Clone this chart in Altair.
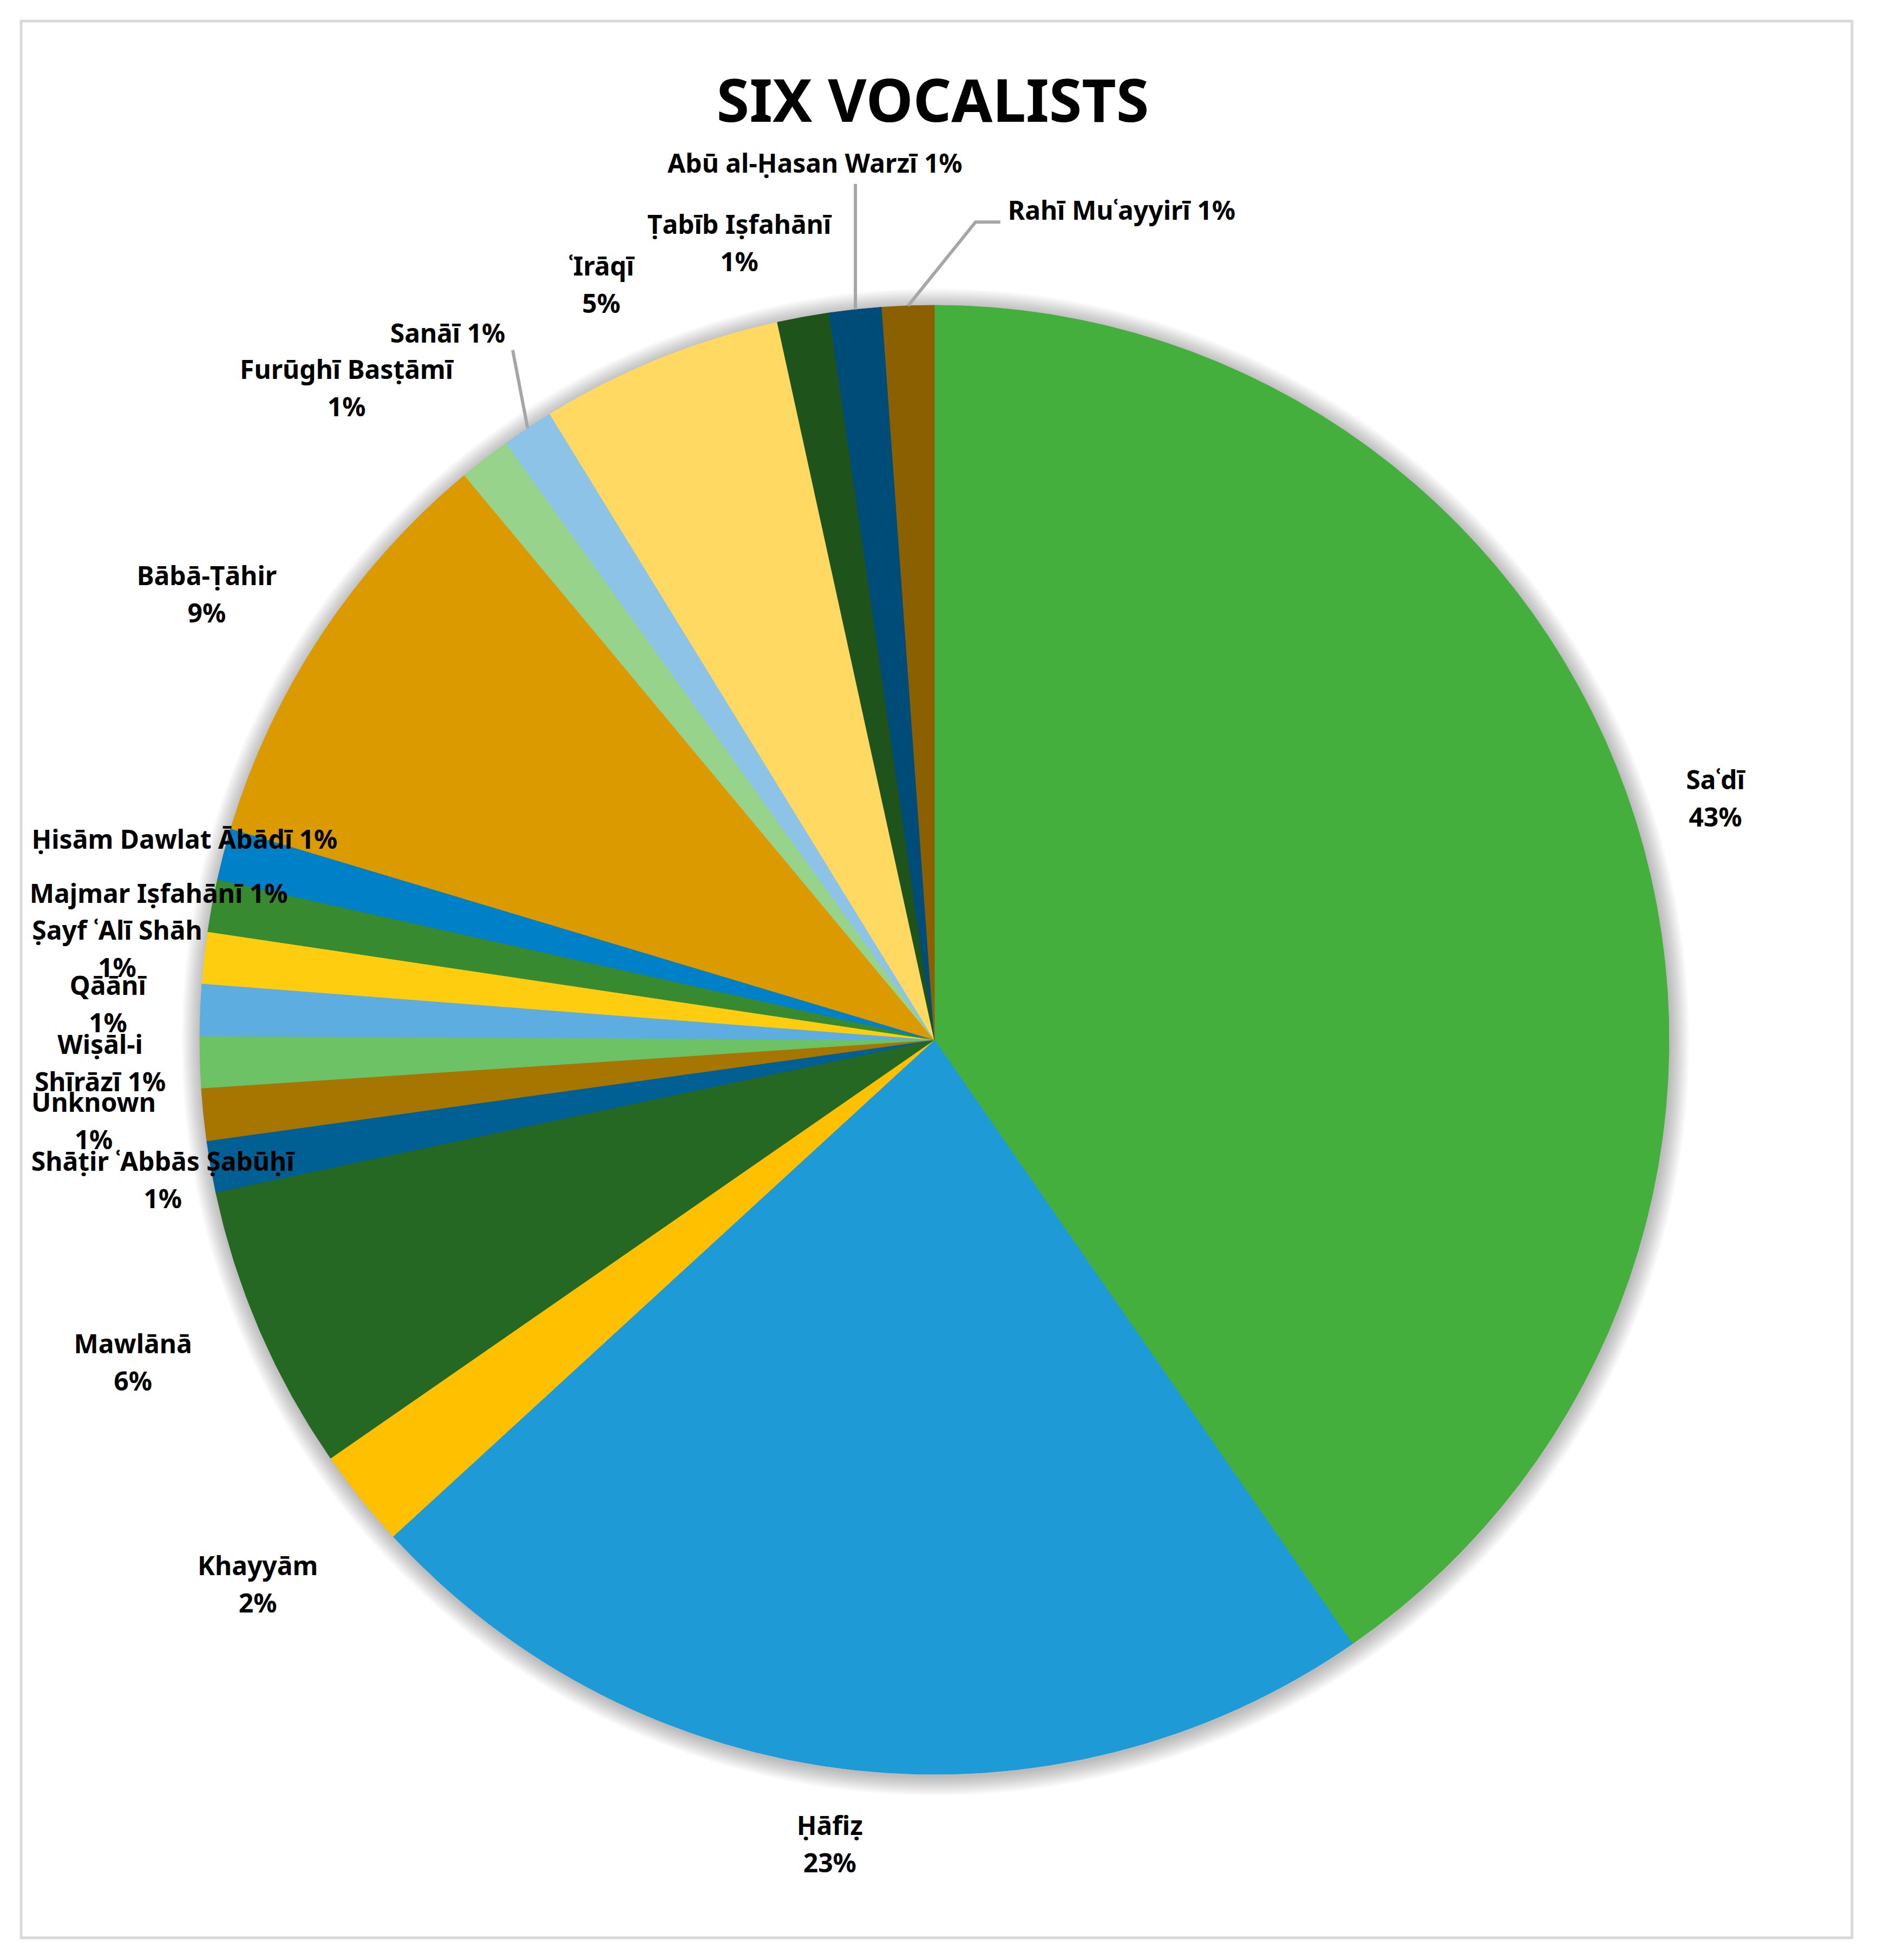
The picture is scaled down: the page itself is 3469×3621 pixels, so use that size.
import math
import altair as alt
import pandas as pd

# ---------------- data ----------------
poets = [
    "Saʿdī", "Ḥāfiẓ", "Khayyām", "Mawlānā", "Shāṭir ʿAbbās Ṣabūḥī", "Unknown",
    "Wiṣāl-i Shīrāzī", "Qāānī", "Ṣayf ʿAlī Shāh", "Majmar Iṣfahānī",
    "Ḥisām Dawlat Ābādī", "Bābā-Ṭāhir", "Furūghī Basṭāmī", "Sanāī", "ʿIrāqī",
    "Ṭabīb Iṣfahānī", "Abū al-Ḥasan Warzī", "Rahī Muʿayyirī",
]
# share of the circle (percent), measured from the slice angles
shares = [40.37, 22.82, 2.17, 6.32, 1.13, 1.15, 1.13, 1.14, 1.13, 1.15,
          1.14, 9.31, 1.14, 1.14, 5.34, 1.14, 1.15, 1.14]
# percentage text as printed on the chart
pct_labels = ["43%", "23%", "2%", "6%", "1%", "1%", "1%", "1%", "1%", "1%",
              "1%", "9%", "1%", "1%", "5%", "1%", "1%", "1%"]
label_text = [
    "Saʿdī\n43%", "Ḥāfiẓ\n23%", "Khayyām\n2%", "Mawlānā\n6%",
    "Shāṭir ʿAbbās Ṣabūḥī\n1%", "Unknown\n1%", "Wiṣāl-i\nShīrāzī 1%",
    "Qāānī\n1%", "Ṣayf ʿAlī Shāh\n1%", "Majmar Iṣfahānī 1%",
    "Ḥisām Dawlat Ābādī 1%", "Bābā-Ṭāhir\n9%", "Furūghī Basṭāmī\n1%",
    "Sanāī 1%", "ʿIrāqī\n5%", "Ṭabīb Iṣfahānī\n1%", "Abū al-Ḥasan Warzī 1%",
    "Rahī Muʿayyirī 1%",
]
colors = ["#44AF3D", "#1E9BD7", "#FFC000", "#246824", "#005F93", "#A67600",
          "#6CC265", "#5DADE0", "#FFCD0F", "#378A30", "#0080C6", "#DB9A00",
          "#98D38C", "#8DC3E6", "#FFD961", "#1E541B", "#004C78", "#8A6000"]
title_text = "SIX VOCALISTS"

# ---------------- layout / style ----------------
PLOT_W, PLOT_H = 3382, 3541
CX, CY, R = 1687, 1882, 1357
FONT = "Noto Sans"
FONT_SIZE = 48
LINE_H = 69
# label placement tweaks (angle shift in degrees, radius factor)
label_shift = [0.3, 1.0, -0.3, 1.3, -0.5, 0.2, 0.0, 0.0, -0.2, 0.0,
               0.2, -2.1, -4.4, -1.0, -1.9, -3.5, -1.6, 14.8]
label_rfac = [1.112, 1.107, 1.184, 1.177, 1.068, 1.150, 1.136, 1.126, 1.119,
              1.074, 1.056, 1.160, 1.193, 1.166, 1.121, 1.114, 1.202, 1.155]

total = sum(shares)
mids = []
cum = 0.0
for v in shares:
    mids.append((cum + v / 2) / total * 360.0)
    cum += v


def polar(angle_deg, radius):
    a = math.radians(angle_deg)
    return CX + radius * math.sin(a), CY - radius * math.cos(a)


pie_df = pd.DataFrame({"poet": poets, "share": shares, "idx": range(len(poets))})

lab_rows = []
for i, name in enumerate(poets):
    lx, ly = polar(mids[i] + label_shift[i], R * label_rfac[i])
    n_lines = label_text[i].count("\n") + 1
    # vega puts the first line at y; shift so the block is centred
    ly_top = ly - (n_lines - 1) * LINE_H / 2
    lab_rows.append({"poet": name, "label": label_text[i], "lx": lx,
                     "ly": ly, "ly_top": ly_top})
lab_df = pd.DataFrame(lab_rows)

# leader lines (from slice edge to label)
seg = []
i_abu, i_rahi, i_sanai = 16, 17, 13
sx, sy = polar(mids[i_abu], R)
seg.append({"x": sx, "y": sy, "x2": sx, "y2": lab_rows[i_abu]["ly"] + 35})
sx, sy = polar(mids[i_rahi], R)
lx, ly = lab_rows[i_rahi]["lx"], lab_rows[i_rahi]["ly"]
seg.append({"x": sx, "y": sy, "x2": lx - 270, "y2": ly + 18})
seg.append({"x": lx - 272, "y": ly + 18, "x2": lx - 224, "y2": ly + 18})
sx, sy = polar(mids[i_sanai], R)
lx, ly = lab_rows[i_sanai]["lx"], lab_rows[i_sanai]["ly"]
seg.append({"x": sx, "y": sy, "x2": lx + 120, "y2": ly + 28})
seg_df = pd.DataFrame(seg)

# soft outer shadow made of faint concentric discs
shadow_df = pd.DataFrame({"rad": [R + 2 + 3 * k for k in range(12)]})

color_scale = alt.Scale(domain=poets, range=colors)

shadow = alt.Chart(shadow_df).mark_arc(
    theta=0, theta2=2 * math.pi, color="black", opacity=0.022
).encode(
    radius=alt.Radius("rad:Q", scale=None, stack=None),
    x=alt.value(CX + 2),
    y=alt.value(CY + 4),
)

pie = alt.Chart(pie_df).mark_arc(outerRadius=R, strokeWidth=1).encode(
    theta=alt.Theta("share:Q", stack=True),
    color=alt.Color("poet:N", scale=color_scale, legend=None),
    stroke=alt.Stroke("poet:N", scale=color_scale, legend=None),
    order=alt.Order("idx:Q"),
    x=alt.value(CX),
    y=alt.value(CY),
)

leaders = alt.Chart(seg_df).mark_rule(color="#A6A6A6", strokeWidth=6).encode(
    x=alt.X("x:Q", scale=None, axis=None),
    y=alt.Y("y:Q", scale=None, axis=None),
    x2="x2:Q",
    y2="y2:Q",
)

labels = alt.Chart(lab_df).mark_text(
    font=FONT, fontWeight="bold", fontSize=FONT_SIZE, lineBreak="\n",
    lineHeight=LINE_H, align="center", baseline="middle", color="black",
).encode(
    x=alt.X("lx:Q", scale=None, axis=None),
    y=alt.Y("ly_top:Q", scale=None, axis=None),
    text="label:N",
)

title = alt.Chart(pd.DataFrame({"t": [title_text]})).mark_text(
    font=FONT, fontWeight="bold", fontSize=110, align="center",
    baseline="alphabetic", color="black",
).encode(
    x=alt.value(CX - 3),
    y=alt.value(186),
    text="t:N",
)

chart = alt.layer(shadow, pie, leaders, labels, title).properties(
    width=PLOT_W,
    height=PLOT_H,
    padding={"left": 31, "top": 31, "right": 40, "bottom": 33},
    autosize=alt.AutoSizeParams(type="none"),
    background="white",
).configure_view(stroke="#D9D9D9", strokeWidth=5)

chart.save("out.html", embed_options={"renderer": "svg", "actions": False})
